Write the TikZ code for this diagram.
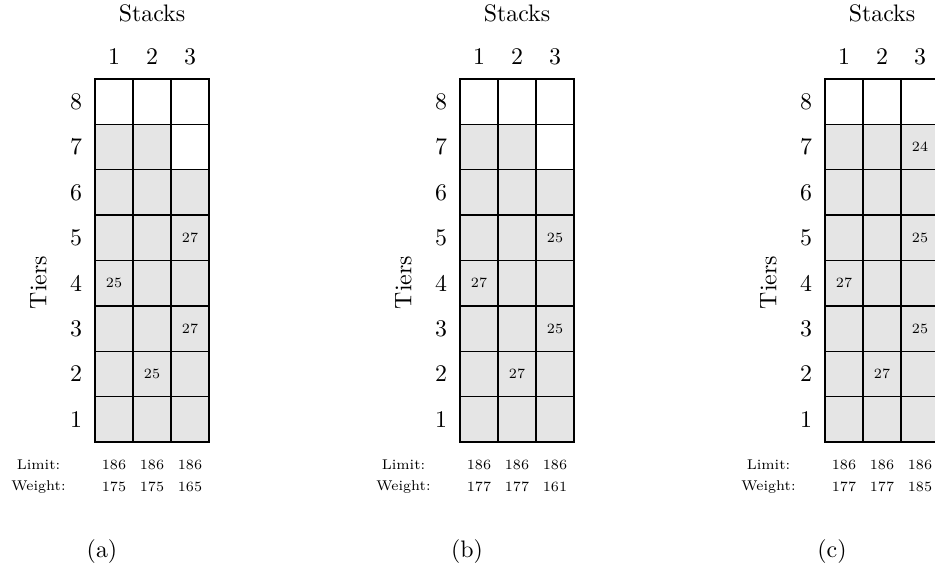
\documentclass[tikz,border=0pt]{standalone}
\begin{document}
\begin{tikzpicture}[x=0.4587pt,y=-0.4587pt,
  font=\fontsize{10.95}{13.6}\selectfont,
  cellbox/.style={draw=black, line width=0.6pt, fill=gray!20, minimum width=17.43pt, minimum height=20.81pt, inner sep=0pt, outer sep=0pt, anchor=north west},
  emptybox/.style={cellbox, fill=white},
  valtext/.style={font=\fontsize{6.5}{7.5}\selectfont, inner sep=0pt},
  axlabel/.style={inner sep=0pt},
  rowlabel/.style={font=\fontsize{6.5}{7.5}\selectfont, inner sep=0pt}]
\useasboundingbox (0,0) rectangle (935,579);
\foreach \p/\ox/\cap/\wa/\wb/\wc/\topc in {0/0/a/175/175/165/white, 1/365/b/177/177/161/white, 2/730/c/177/177/185/gray!20} {
  % grid
  \foreach \r in {1,...,7} {
    \foreach \c in {1,2} {
      \node[cellbox] (p\p c\c r\r) at ({\ox+95+(\c-1)*38}, {79+(8-\r)*45.375}) {};
    }
  }
  \foreach \r in {1,...,6} {
    \node[cellbox] (p\p c3r\r) at ({\ox+95+2*38}, {79+(8-\r)*45.375}) {};
  }
  \node[cellbox, fill=\topc] (p\p c3r7) at ({\ox+95+2*38}, {79+45.375}) {};
  \foreach \c in {1,2,3} {
    \node[emptybox] (p\p c\c r8) at ({\ox+95+(\c-1)*38}, 79) {};
    \node[axlabel] (col\p-\c) at ({\ox+114+(\c-1)*38}, 57) {\c};
  }
  \foreach \r in {1,...,8} {
    \node[axlabel] (row\p-\r) at ({\ox+76}, {79+(8.5-\r)*45.375}) {\r};
  }
  \node[axlabel] (stacks\p) at ({\ox+152}, 13) {Stacks};
  \node[axlabel, rotate=90] (tiers\p) at ({\ox+38.5}, 282.5) {Tiers};
  \node[rowlabel] (limlab\p) at ({\ox+38.5}, 465) {Limit:};
  \node[rowlabel] (wlab\p) at ({\ox+38.5}, 487) {Weight:};
  \foreach \c/\w in {1/\wa, 2/\wb, 3/\wc} {
    \node[rowlabel] (lim\p-\c) at ({\ox+114+(\c-1)*38}, 465) {186};
    \node[rowlabel] (w\p-\c) at ({\ox+114+(\c-1)*38}, 487) {\w};
  }
  \node[axlabel] (cap\p) at ({\ox+102}, 552) {(\cap)};
}
% cell values
\node[valtext] (v0a) at (p0c1r4) {25};
\node[valtext] (v0b) at (p0c2r2) {25};
\node[valtext] (v0c) at (p0c3r5) {27};
\node[valtext] (v0d) at (p0c3r3) {27};
\node[valtext] (v1a) at (p1c1r4) {27};
\node[valtext] (v1b) at (p1c2r2) {27};
\node[valtext] (v1c) at (p1c3r5) {25};
\node[valtext] (v1d) at (p1c3r3) {25};
\node[valtext] (v2a) at (p2c1r4) {27};
\node[valtext] (v2b) at (p2c2r2) {27};
\node[valtext] (v2e) at (p2c3r7) {24};
\node[valtext] (v2c) at (p2c3r5) {25};
\node[valtext] (v2d) at (p2c3r3) {25};
\end{tikzpicture}
\end{document}
